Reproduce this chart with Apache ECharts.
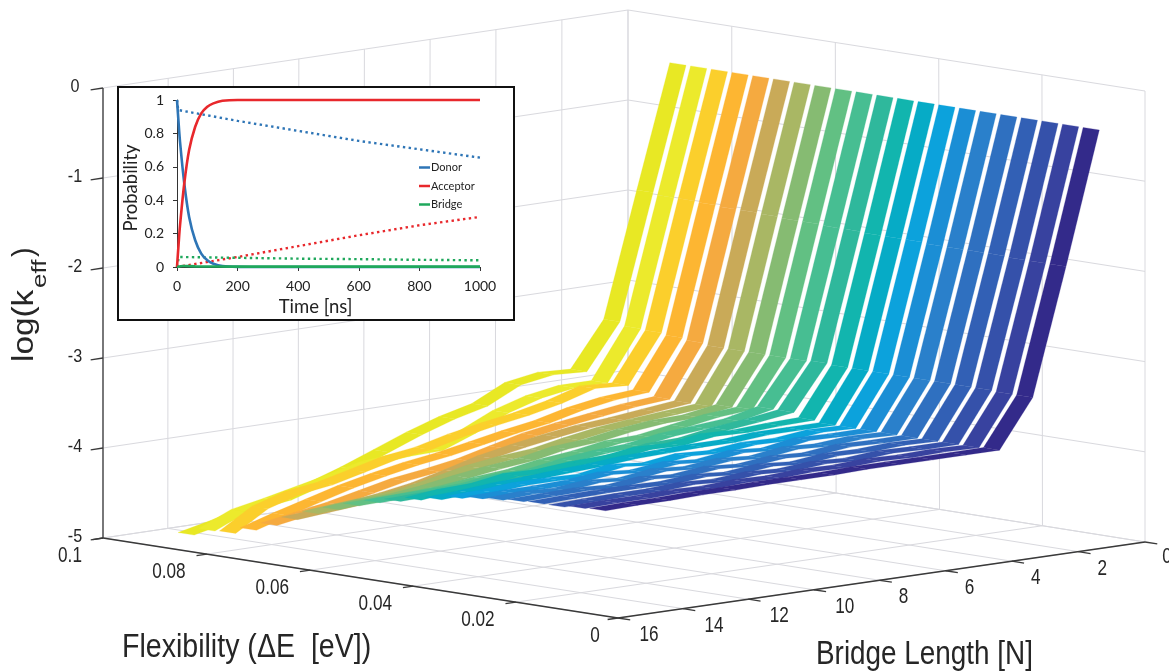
<!DOCTYPE html>
<html><head><meta charset="utf-8">
<style>html,body{margin:0;padding:0;background:#fff}#c{width:1169px;height:672px}</style>
<script src="https://cdn.jsdelivr.net/npm/echarts@6/dist/echarts.min.js"></script>
</head><body><div id="c"></div>
<script>
// ---- main surface data: log(k_eff) per ribbon (rows, yellow to navy) per bridge length
const bridgeLengths = [1,2,3,4,5,6,7,8,9,10,11,12,13,14,15,16];
const flexibility = [0.084,0.08,0.076,0.072,0.068,0.064,0.06,0.056,0.052,0.048,0.044,0.04,0.036,0.032,0.028,0.024,0.02,0.016,0.012,0.008,0.004];
const ribbon00 = [-0.40,-1.76,-3.14,-3.64,-3.62,-3.68,-3.86,-3.95,-4.07,-4.21,-4.35,-4.47,-4.58,-4.63,-4.73,-4.81];
const ribbon01 = [-0.40,-1.78,-3.18,-3.73,-3.73,-3.79,-3.90,-4.07,-4.21,-4.22,-4.25,-4.34,-4.42,-4.50,-4.57,-4.73];
const ribbon02 = [-0.40,-1.78,-3.19,-3.72,-3.70,-3.81,-3.89,-3.95,-4.02,-4.11,-4.16,-4.25,-4.34,-4.39,-4.50,-4.72];
const ribbon03 = [-0.40,-1.79,-3.21,-3.76,-3.79,-3.85,-3.94,-4.00,-4.07,-4.14,-4.19,-4.26,-4.34,-4.44,-4.54,-4.65];
const ribbon04 = [-0.40,-1.80,-3.23,-3.80,-3.83,-3.88,-3.93,-3.99,-4.08,-4.17,-4.23,-4.28,-4.36,-4.44,-4.50,-4.56];
const ribbon05 = [-0.40,-1.80,-3.25,-3.81,-3.85,-3.89,-3.92,-3.97,-4.03,-4.10,-4.20,-4.29,-4.35,-4.40,-4.43,-4.46];
const ribbon06 = [-0.40,-1.81,-3.25,-3.81,-3.84,-3.87,-3.91,-3.97,-4.04,-4.07,-4.12,-4.20,-4.27,-4.30,-4.33,-4.36];
const ribbon07 = [-0.40,-1.82,-3.25,-3.78,-3.84,-3.85,-3.89,-3.95,-3.98,-4.05,-4.09,-4.14,-4.20,-4.24,-4.25,-4.28];
const ribbon08 = [-0.40,-1.82,-3.25,-3.77,-3.80,-3.86,-3.92,-3.93,-3.99,-4.03,-4.09,-4.12,-4.16,-4.18,-4.19,-4.20];
const ribbon09 = [-0.40,-1.83,-3.25,-3.73,-3.81,-3.84,-3.87,-3.93,-3.95,-3.99,-4.05,-4.05,-4.10,-4.11,-4.12,-4.13];
const ribbon10 = [-0.40,-1.83,-3.24,-3.73,-3.78,-3.82,-3.88,-3.89,-3.95,-3.96,-3.99,-4.04,-4.04,-4.06,-4.07,-4.08];
const ribbon11 = [-0.40,-1.84,-3.25,-3.78,-3.79,-3.81,-3.80,-3.85,-3.84,-3.89,-3.90,-3.93,-3.92,-3.98,-3.99,-4.03];
const ribbon12 = [-0.40,-1.84,-3.25,-3.80,-3.80,-3.80,-3.83,-3.83,-3.84,-3.85,-3.88,-3.90,-3.92,-3.94,-3.97,-3.99];
const ribbon13 = [-0.40,-1.84,-3.25,-3.80,-3.79,-3.83,-3.82,-3.86,-3.84,-3.89,-3.85,-3.91,-3.90,-3.90,-3.93,-3.94];
const ribbon14 = [-0.40,-1.85,-3.25,-3.80,-3.80,-3.79,-3.85,-3.82,-3.87,-3.84,-3.88,-3.85,-3.89,-3.90,-3.90,-3.91];
const ribbon15 = [-0.40,-1.85,-3.25,-3.80,-3.79,-3.82,-3.80,-3.85,-3.82,-3.86,-3.83,-3.88,-3.85,-3.89,-3.87,-3.89];
const ribbon16 = [-0.40,-1.85,-3.25,-3.80,-3.80,-3.79,-3.83,-3.81,-3.85,-3.82,-3.86,-3.83,-3.87,-3.85,-3.86,-3.87];
const ribbon17 = [-0.40,-1.85,-3.25,-3.80,-3.79,-3.81,-3.80,-3.84,-3.81,-3.85,-3.82,-3.85,-3.84,-3.84,-3.85,-3.86];
const ribbon18 = [-0.40,-1.86,-3.25,-3.80,-3.80,-3.79,-3.82,-3.80,-3.83,-3.81,-3.84,-3.82,-3.84,-3.84,-3.85,-3.86];
const ribbon19 = [-0.40,-1.86,-3.26,-3.80,-3.79,-3.80,-3.79,-3.81,-3.80,-3.82,-3.81,-3.83,-3.82,-3.83,-3.83,-3.84];
const ribbon20 = [-0.40,-1.86,-3.26,-3.79,-3.79,-3.79,-3.79,-3.79,-3.80,-3.80,-3.80,-3.81,-3.81,-3.82,-3.82,-3.83];
const ribbonValues = [ribbon00,ribbon01,ribbon02,ribbon03,ribbon04,ribbon05,ribbon06,ribbon07,ribbon08,ribbon09,ribbon10,ribbon11,ribbon12,ribbon13,ribbon14,ribbon15,ribbon16,ribbon17,ribbon18,ribbon19,ribbon20];
const ribbonColors = ['#e8e824','#ecea2c','#fbcf2c','#fdb632','#f5aa40','#c9aa58','#a9b764','#86bb72','#62c083','#47be92','#2fb89c','#12b5ae','#06abc6','#0ca2dc','#1b8ed5','#2a80cb','#2f70c0','#3260b5','#3551aa','#38429f','#332a8a'];

// ---- main axes
const flexTicks = [0,0.02,0.04,0.06,0.08,0.1];
const flexLabels = ['0','0.02','0.04','0.06','0.08','0.1'];
const bridgeTicks = [0,2,4,6,8,10,12,14,16];
const bridgeLabels = ['0','2','4','6','8','10','12','14','16'];
const logTicks = [-5,-4,-3,-2,-1,0];
const logLabels = ['-5','-4','-3','-2','-1','0'];

// ---- inset data
const timeTicks = [0,200,400,600,800,1000];
const donorSolid = [[0,1],[5,0.87],[10,0.75],[24,0.5],[40,0.3],[60,0.16],[80,0.08],[100,0.04],[120,0.02],[150,0.006],[200,0.001],[300,0],[1000,0]];
const acceptorSolid = [[0,0],[5,0.13],[10,0.25],[24,0.5],[40,0.7],[60,0.84],[80,0.92],[100,0.96],[120,0.98],[150,0.995],[200,1],[1000,1]];
const bridgeSolid = [[0,0],[20,0.006],[60,0.004],[200,0.002],[1000,0.002]];
const donorDotted = [[0,1],[4,0.94],[200,0.875],[400,0.815],[600,0.755],[800,0.705],[1000,0.655]];
const acceptorDotted = [[0,0],[200,0.06],[400,0.125],[600,0.19],[800,0.25],[1000,0.30]];
const bridgeDotted = [[0,0],[6,0.06],[200,0.055],[400,0.05],[600,0.047],[800,0.043],[1000,0.04]];

// ---- view projection of the 3D box on the page plane (ΔE,N) -> plane at z=-5 and z=0
const quadFloor = [[1145,542],[628,460],[103,538],[618,618]];
const quadTop   = [[1145,91],[628,10],[103,88],[618,168]];
function homography(q){
  const [p0,p1,p2,p3]=q;
  const sx=p0[0]-p1[0]+p2[0]-p3[0], sy=p0[1]-p1[1]+p2[1]-p3[1];
  const dx1=p1[0]-p2[0], dx2=p3[0]-p2[0], dy1=p1[1]-p2[1], dy2=p3[1]-p2[1];
  const den=dx1*dy2-dx2*dy1;
  const g=(sx*dy2-dx2*sy)/den, h=(dx1*sy-sx*dy1)/den;
  const a=p1[0]-p0[0]+g*p1[0], b=p3[0]-p0[0]+h*p3[0], c=p0[0];
  const d=p1[1]-p0[1]+g*p1[1], e=p3[1]-p0[1]+h*p3[1], f=p0[1];
  return (u,v)=>{const w=g*u+h*v+1;return [(a*u+b*v+c)/w,(d*u+e*v+f)/w];};
}
const hFloor=homography(quadFloor), hTop=homography(quadTop);
function project(dE,N,z){
  const u=dE/0.1, v=N/16, t=(z+5)/5;
  const p=hFloor(u,v), q=hTop(u,v);
  return [p[0]+(q[0]-p[0])*t, p[1]+(q[1]-p[1])*t];
}
const halfWidth=0.00157;

// ---- segment tables built from the tick arrays
const gridSegs=[], axisSegs=[];
flexTicks.forEach(e=>{gridSegs.push([e,0,-5,e,16,-5]);gridSegs.push([e,0,-5,e,0,0]);});
bridgeTicks.forEach(n=>{gridSegs.push([0,n,-5,0.1,n,-5]);gridSegs.push([0.1,n,-5,0.1,n,0]);});
logTicks.forEach(z=>{gridSegs.push([0.1,0,z,0.1,16,z]);gridSegs.push([0,0,z,0.1,0,z]);});
axisSegs.push([0.1,16,-5,0,16,-5],[0,16,-5,0,0,-5],[0.1,16,-5,0.1,16,0]);
logTicks.forEach(z=>axisSegs.push([0.1,16,z,0.1,16.38,z]));
flexTicks.forEach(e=>axisSegs.push([e,16,-5,e,16.32,-5]));
bridgeTicks.forEach(n=>axisSegs.push([0,n,-5,-0.0024,n,-5]));

const font='"Liberation Sans",Arial,sans-serif';
function segSeries(name,data,color,width,z){
  return {type:'custom',name,coordinateSystem:'cartesian2d',xAxisIndex:0,yAxisIndex:0,silent:true,z,data,
    renderItem:(p,api)=>{
      const a=api.coord(project(api.value(0),api.value(1),api.value(2)));
      const b=api.coord(project(api.value(3),api.value(4),api.value(5)));
      return {type:'line',shape:{x1:a[0],y1:a[1],x2:b[0],y2:b[1]},style:{stroke:color,lineWidth:width}};
    }};
}
function ribbonSeries(k){
  const data=[];
  for(let i=0;i<bridgeLengths.length-1;i++)
    data.push([flexibility[k],bridgeLengths[i],ribbonValues[k][i],bridgeLengths[i+1],ribbonValues[k][i+1]]);
  return {type:'custom',name:'ΔE '+flexibility[k],coordinateSystem:'cartesian2d',xAxisIndex:0,yAxisIndex:0,silent:true,z:2+k*0.01,data,
    renderItem:(p,api)=>{
      const e=api.value(0),n1=api.value(1),z1=api.value(2),n2=api.value(3),z2=api.value(4);
      const pts=[project(e-halfWidth,n1,z1),project(e+halfWidth,n1,z1),project(e+halfWidth,n2,z2),project(e-halfWidth,n2,z2)].map(q=>api.coord(q));
      return {type:'polygon',shape:{points:pts},style:{fill:ribbonColors[k],stroke:ribbonColors[k],lineWidth:0.25}};
    }};
}
// tick labels
const textRows=[];
logTicks.forEach((z,i)=>textRows.push({at:[0.1,16,z],dx:-28,dy:-1,text:logLabels[i],size:19,sx:0.85}));
flexTicks.forEach((e,i)=>textRows.push({at:[e,16,-5],dx:e===0?-23:(e===0.1?-33:-38),dy:18,text:flexLabels[i],size:22,sx:0.78}));
bridgeTicks.forEach((n,i)=>textRows.push({at:[0,n,-5],dx:n===0?22:(n>=10?31:24),dy:n===0?15:17,text:bridgeLabels[i],size:22,sx:0.78}));
const textSeries={type:'custom',name:'tick labels',coordinateSystem:'cartesian2d',xAxisIndex:0,yAxisIndex:0,silent:true,z:3,data:textRows.map((r,i)=>[i]),
  renderItem:(p,api)=>{
    const r=textRows[api.value(0)], c=api.coord(project(r.at[0],r.at[1],r.at[2]));
    return {type:'text',x:c[0]+r.dx,y:c[1]+r.dy,scaleX:r.sx,style:{text:r.text,fontSize:r.size,fontFamily:font,fill:'#262626',textAlign:'center',textVerticalAlign:'middle'}};
  }};
const insetBox=[[118,87],[514,320]];
const insetBackground={type:'custom',name:'inset frame',coordinateSystem:'cartesian2d',xAxisIndex:0,yAxisIndex:0,silent:true,z:5,data:[[0]],
  renderItem:(p,api)=>{
    const a=api.coord(insetBox[0]),b=api.coord(insetBox[1]);
    return {type:'rect',shape:{x:a[0],y:a[1],width:b[0]-a[0],height:b[1]-a[1]},style:{fill:'#fff',stroke:'#111',lineWidth:2}};
  }};

const titles=[
 {text:'Flexibility (ΔE  [eV])',x:122,y:648,size:34,sx:0.84,rot:0,align:'left'},
 {text:'Bridge Length [N]',x:816,y:655,size:34,sx:0.82,rot:0,align:'left'},
 {text:'log(k',x:25,y:362,size:29,sx:1.15,rot:Math.PI/2,align:'left'},
 {text:'eff',x:40,y:288,size:20,sx:1.3,rot:Math.PI/2,align:'left'},
 {text:')',x:25,y:257,size:29,sx:1,rot:Math.PI/2,align:'left'}
];
const titleSeries={type:'custom',name:'axis titles',coordinateSystem:'cartesian2d',xAxisIndex:0,yAxisIndex:0,silent:true,z:3,data:titles.map((r,i)=>[i]),
  renderItem:(p,api)=>{
    const r=titles[api.value(0)],c=api.coord([r.x,r.y]);
    return {type:'text',x:c[0],y:c[1],rotation:r.rot,scaleX:r.sx,style:{text:r.text,fontSize:r.size,fontFamily:font,fill:'#262626',textAlign:r.align,textVerticalAlign:'middle'}};
  }};

function insetLine(name,data,color,dotted){
  return {type:'line',name,data,xAxisIndex:1,yAxisIndex:1,symbol:'none',smooth:dotted?false:0.3,z:6,silent:true,clip:false,
    lineStyle:{color,width:dotted?2.4:2.6,type:dotted?[2.4,3.4]:'solid'},itemStyle:{color}};
}
const insetFont='Lato,"Open Sans",sans-serif';
const insetAxisCommon={axisLine:{show:true,onZero:false,lineStyle:{color:'#333',width:1}},axisTick:{show:true,length:4,inside:false,lineStyle:{color:'#333'}},splitLine:{show:false},z:6};
const option={
 animation:false,backgroundColor:'#fff',
 grid:[{left:0,top:0,width:1169,height:672,show:false},{left:177,top:100,width:303,height:167,show:false,z:6}],
 xAxis:[{type:'value',gridIndex:0,min:0,max:1169,show:false},
  Object.assign({type:'value',gridIndex:1,min:0,max:1000,interval:200,name:'Time [ns]',nameLocation:'middle',nameGap:31,nameTextStyle:{fontFamily:insetFont,fontSize:18.5,color:'#222',padding:[0,26,0,0]},axisLabel:{fontFamily:insetFont,fontSize:14,color:'#222',margin:12,showMinLabel:true,showMaxLabel:true,formatter:v=>String(v)}},insetAxisCommon)],
 yAxis:[{type:'value',gridIndex:0,min:0,max:672,inverse:true,show:false},
  Object.assign({type:'value',gridIndex:1,min:0,max:1,interval:0.2,name:'Probability',nameLocation:'middle',nameGap:34,nameTextStyle:{fontFamily:insetFont,fontSize:18.5,color:'#222',padding:[0,9,0,0]},axisLabel:{fontFamily:insetFont,fontSize:14,color:'#222',margin:13,formatter:v=>String(+v.toFixed(1))}},insetAxisCommon)],
 legend:{show:true,orient:'vertical',left:419,top:162,z:7,itemWidth:11,itemHeight:2.5,itemGap:7.5,icon:'rect',padding:0,
  textStyle:{fontFamily:insetFont,fontSize:11,color:'#222',padding:[0,0,0,-4]},data:['Donor','Acceptor','Bridge'],selectedMode:false},
 series:[
  segSeries('grid',gridSegs,'#d9d9de',1,1),
  ...ribbonValues.map((_,k)=>ribbonSeries(k)),
  segSeries('axes',axisSegs,'#3a3a3a',1.3,3),
  textSeries,titleSeries,insetBackground,
  insetLine('Donor dotted',donorDotted,'#2e75b6',true),
  insetLine('Acceptor dotted',acceptorDotted,'#e8282c',true),
  insetLine('Bridge dotted',bridgeDotted,'#1fa85c',true),
  insetLine('Donor',donorSolid,'#2e75b6',false),
  insetLine('Acceptor',acceptorSolid,'#e8282c',false),
  insetLine('Bridge',bridgeSolid,'#1fa85c',false)
 ]
};
const chart=echarts.init(document.getElementById('c'),null,{renderer:'canvas',width:1169,height:672});
chart.setOption(option);
</script></body></html>
